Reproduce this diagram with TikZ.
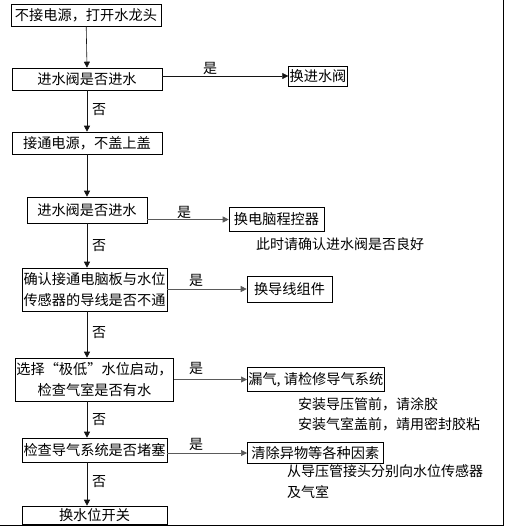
\documentclass[tikz,border=0pt]{standalone}
\usepackage{fontspec}
\setmainfont{Noto Sans CJK SC}
\usetikzlibrary{arrows.meta,calc}
\definecolor{flowline}{RGB}{20,20,20}
\definecolor{flowgrey}{RGB}{90,90,90}

\begin{document}
\begin{tikzpicture}[
      x=1pt, y=-1pt,
      box/.style={rectangle, draw=black, semithick, align=center, inner sep=1pt,
        font=\fontsize{14.2}{21.5}\selectfont},
      mainbox/.style={box, minimum width=150pt, minimum height=22pt},
      widebox/.style={box, minimum width=145pt},
      fixbox/.style={box, minimum height=24pt},
      note/.style={anchor=west, inner sep=0pt, font=\fontsize{14}{20}\selectfont},
      lbl/.style={inner sep=0pt, font=\fontsize{14}{16}\selectfont},
      arr/.style={-{Triangle[length=6pt,width=6pt]}, semithick, draw=flowline},
      sidearr/.style={arr, draw=flowgrey},
    ]
    \useasboundingbox (0,0) rectangle (504,528);

    % main column
    \node[mainbox] (start) at (86,15) {不接电源，打开水龙头};
    \node[mainbox] (valve1) at (87,79) {进水阀是否进水};
    \node[mainbox] (power) at (87,143) {接通电源，不盖上盖};
    \node[box, minimum width=120pt, minimum height=26pt] (valve2) at (87,210) {进水阀是否进水};
    \node[widebox, minimum height=43pt] (wire) at (94.5,289.5) {确认接通电脑板与水位\\传感器的导线是否不通};
    \node[widebox, minimum height=43pt] (lowlvl) at (94.5,379.5) {选择“极低”水位启动，\\检查气室是否有水};
    \node[widebox, minimum height=24pt] (block) at (94.5,450) {检查导气系统是否堵塞};
    \node[widebox, minimum height=18pt] (switch) at (94.5,515) {换水位开关};

    % right column
    \node[box, minimum width=58pt, minimum height=20pt] (newvalve) at (318,76) {换进水阀};
    \node[fixbox, minimum width=95pt] (newctrl) at (276.5,219.5) {换电脑程控器};
    \node[fixbox, minimum width=85pt, minimum height=26pt] (newwire) at (289.5,289) {换导线组件};
    \node[fixbox, minimum width=136pt, anchor=west] (leak) at (247,379.5) {漏气, 请检修导气系统};
    \node[fixbox, minimum width=136pt, minimum height=21pt, anchor=west] (clean) at (247,453) {清除异物等各种因素};

    % notes
    \node[note] (note1) at (256,244) {此时请确认进水阀是否良好};
    \node[note] (note2) at (298,404) {安装导压管前，请涂胶};
    \node[note] (note3) at (298,424) {安装气室盖前，靖用密封胶粘};
    \node[note] (note4) at (287,471) {从导压管接头分别向水位传感器};
    \node[note] (note5) at (287,492) {及气室};

    \coordinate (spine) at (87,0);

    % downward arrows
    \draw[arr] (start) -- (spine |- valve1.north);
    \draw[arr] (valve1) -- (spine |- power.north);
    \draw[arr] (power) -- (spine |- valve2.north);
    \draw[arr] (valve2) -- (spine |- wire.north);
    \draw[arr] (spine |- wire.south) -- (spine |- lowlvl.north);
    \draw[arr] (spine |- lowlvl.south) -- (spine |- block.north);
    \draw[arr] (spine |- block.south) -- (spine |- switch.north);

    % side arrows
    \draw[arr] (valve1.east |- newvalve.west) -- (newvalve.west);
    \draw[sidearr] (valve2.east |- newctrl.west) -- (newctrl.west);
    \draw[sidearr] (wire.east |- newwire.west) -- (newwire.west);
    \draw[sidearr] (lowlvl.east |- leak.west) -- (leak.west);
    \draw[sidearr] (block.east |- clean.west) -- (clean.west);

    % labels
    \node[lbl] at (210,68) {是};
    \node[lbl] at (184,212) {是};
    \node[lbl] at (196,280) {是};
    \node[lbl] at (196,368) {是};
    \node[lbl] at (196,444) {是};
    \node[lbl] at (99,110) {否};
    \node[lbl] at (99,246) {否};
    \node[lbl] at (99,333) {否};
    \node[lbl] at (99,420) {否};
    \node[lbl] at (99,482) {否};

    % frame edges
    \draw[thick] (0,525) -- (503,525) -- (503,0);
  \end{tikzpicture}
\end{document}
